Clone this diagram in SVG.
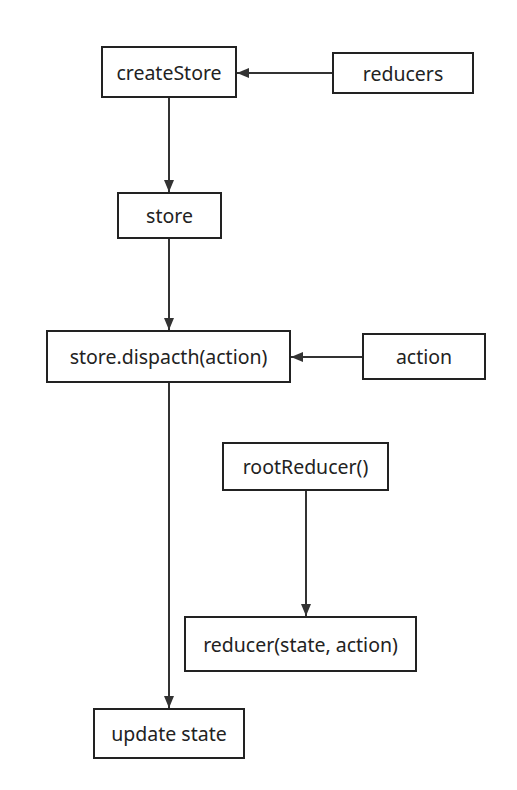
<svg xmlns="http://www.w3.org/2000/svg" width="517" height="790" viewBox="0 0 517 790">
<defs>
<style>
.n rect{fill:#fff;stroke:#222;stroke-width:2}
.n text{font-family:"Noto Sans","Open Sans",sans-serif;font-size:19.5px;fill:#222;text-anchor:middle;dominant-baseline:central}
.c line{stroke:#333;stroke-width:2}
</style>
<marker id="ah" viewBox="0 0 12 10" refX="12" refY="5" markerWidth="12" markerHeight="10" markerUnits="userSpaceOnUse" orient="auto">
<path d="M0,0 L12,5 L0,10 Z" fill="#333"/>
</marker>
</defs>
<rect width="517" height="790" fill="#fff"/>
<g id="connectors" class="c">
<line x1="333" y1="73" x2="237" y2="73" marker-end="url(#ah)"/>
<line x1="169" y1="97" x2="169" y2="192" marker-end="url(#ah)"/>
<line x1="169" y1="238" x2="169" y2="330" marker-end="url(#ah)"/>
<line x1="363" y1="357" x2="291" y2="357" marker-end="url(#ah)"/>
<line x1="169" y1="382" x2="169" y2="708" marker-end="url(#ah)"/>
<line x1="306" y1="490" x2="306" y2="616" marker-end="url(#ah)"/>
</g>
<g id="createStore" class="n"><rect x="102" y="47" width="134" height="50"/><text x="169" y="72">createStore</text></g>
<g id="reducers" class="n"><rect x="333" y="53" width="140" height="40"/><text x="403" y="73">reducers</text></g>
<g id="store" class="n"><rect x="118" y="193" width="103" height="45"/><text x="169.5" y="215.5">store</text></g>
<g id="dispatch" class="n"><rect x="47" y="331" width="243" height="51"/><text x="168.5" y="356.5">store.dispacth(action)</text></g>
<g id="action" class="n"><rect x="363" y="334" width="122" height="45"/><text x="424" y="356.5">action</text></g>
<g id="rootReducer" class="n"><rect x="223" y="443" width="165" height="47"/><text x="305.5" y="466.5">rootReducer()</text></g>
<g id="reducer" class="n"><rect x="185" y="617" width="231" height="54"/><text x="300.5" y="644">reducer(state, action)</text></g>
<g id="updateState" class="n"><rect x="94" y="709" width="150" height="49"/><text x="169" y="733.5">update state</text></g>
</svg>
